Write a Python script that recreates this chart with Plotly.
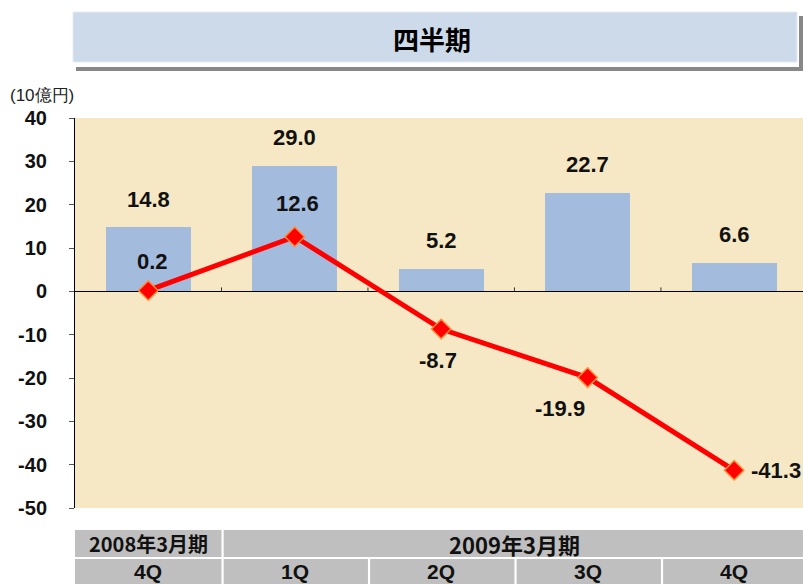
import plotly.graph_objects as go

categories = ["4Q", "1Q", "2Q", "3Q", "4Q"]
bar_values = [14.8, 29.0, 5.2, 22.7, 6.6]
line_values = [0.2, 12.6, -8.7, -19.9, -41.3]
y_ticks = [40, 30, 20, 10, 0, -10, -20, -30, -40, -50]
fiscal_years = ["2008年3月期", "2009年3月期"]
title_text = "四半期"
unit_text = "(10億円)"

W, H = 803, 584
L, R, T, B = 75, 0, 118, 76
plot_h = H - T - B
plot_w = W - L - R

def px_x(px):
    return (px - L) / plot_w

def px_y(py):
    return (H - B - py) / plot_h

FONT = "Liberation Sans Narrow, Arial Narrow, Liberation Sans, Arial, sans-serif"
CJK = "Noto Sans CJK JP, sans-serif"

xs = list(range(len(categories)))

fig = go.Figure()
fig.add_trace(go.Bar(x=xs, y=bar_values, marker=dict(color="#A3BBDD", line=dict(width=0)),
                     width=0.58, hoverinfo="skip"))
fig.add_trace(go.Scatter(x=xs, y=line_values, mode="lines+markers",
                         line=dict(color="#FF0000", width=5),
                         marker=dict(symbol="diamond", size=15, color="#FF0000",
                                     line=dict(color="#FF8C3A", width=1.5)),
                         hoverinfo="skip"))

LABEL_SIZE = 22
annotations = []
for i, v in enumerate(bar_values):
    annotations.append(dict(x=i, y=v, xref="x", yref="y", text=f"{v:.1f}", showarrow=False,
                            xanchor="center", yanchor="middle",
                            yshift=28, font=dict(family=FONT, size=LABEL_SIZE, color="#111111", weight="bold")))
line_offsets = [(4, 29), (3, 33), (-3, -31), (-28, -31), (42, 0)]
for i, v in enumerate(line_values):
    dx, dy = line_offsets[i]
    annotations.append(dict(x=i, y=v, xref="x", yref="y", text=f"{v:.1f}", showarrow=False,
                            xanchor="center", yanchor="middle",
                            xshift=dx, yshift=dy, font=dict(family=FONT, size=LABEL_SIZE, color="#111111", weight="bold")))

shapes = []
# category boundary ticks on zero line
for i in range(len(categories) - 1):
    shapes.append(dict(type="line", xref="x", yref="y", x0=i + 0.5, x1=i + 0.5, y0=0, y1=0.9,
                       line=dict(color="#333333", width=1)))

# title box with shadow
shapes.append(dict(type="rect", xref="paper", yref="paper", x0=px_x(76), x1=px_x(803),
                   y0=px_y(71), y1=px_y(16), fillcolor="#888888", line=dict(width=0), layer="above"))
shapes.append(dict(type="rect", xref="paper", yref="paper", x0=px_x(72), x1=px_x(799),
                   y0=px_y(67), y1=px_y(11), fillcolor="#FFFFFF", line=dict(width=0), layer="above"))
shapes.append(dict(type="rect", xref="paper", yref="paper", x0=px_x(73), x1=px_x(797),
                   y0=px_y(62), y1=px_y(12), fillcolor="#CDDAEA", line=dict(color="#E4EBF4", width=1),
                   layer="above"))
annotations.append(dict(x=px_x(432), y=px_y(38), xref="paper", yref="paper", text=title_text,
                        xanchor="center", yanchor="middle",
                        showarrow=False, font=dict(family=CJK, size=26, color="#000000", weight="bold")))
annotations.append(dict(x=px_x(8), y=px_y(95), xref="paper", yref="paper", text=unit_text,
                        xanchor="left", yanchor="middle",
                        showarrow=False, font=dict(family=FONT, size=17, color="#222222")))

# table
row1 = (px_y(557), px_y(530))
row2 = (px_y(584), px_y(559))
shapes.append(dict(type="rect", xref="x", yref="paper", x0=-0.5, x1=0.5, y0=row1[0], y1=row1[1],
                   fillcolor="#BFBFBF", line=dict(width=0)))
shapes.append(dict(type="rect", xref="x", yref="paper", x0=0.515, x1=4.6, y0=row1[0], y1=row1[1],
                   fillcolor="#BFBFBF", line=dict(width=0)))
annotations.append(dict(x=0, y=(row1[0] + row1[1]) / 2, xref="x", yref="paper", text=fiscal_years[0],
                        xanchor="center", yanchor="middle",
                        showarrow=False, font=dict(family=CJK, size=20, color="#111111", weight="bold")))
annotations.append(dict(x=2.5, y=(row1[0] + row1[1]) / 2, xref="x", yref="paper", text=fiscal_years[1],
                        xanchor="center", yanchor="middle",
                        showarrow=False, font=dict(family=CJK, size=22, color="#111111", weight="bold")))
for i, c in enumerate(categories):
    x0 = i - 0.5 + (0.0 if i == 0 else 0.015)
    shapes.append(dict(type="rect", xref="x", yref="paper", x0=x0, x1=i + 0.5, y0=row2[0], y1=row2[1],
                       fillcolor="#BFBFBF", line=dict(width=0)))
    annotations.append(dict(x=i, y=(row2[0] + row2[1]) / 2, xref="x", yref="paper", text=c,
                            xanchor="center", yanchor="middle",
                            showarrow=False, font=dict(family=FONT, size=21, color="#111111", weight="bold")))

fig.update_layout(
    width=W, height=H,
    margin=dict(l=L, r=R, t=T, b=B, pad=0, autoexpand=False),
    paper_bgcolor="#FFFFFF",
    plot_bgcolor="#F6E8C4",
    showlegend=False,
    bargap=0,
    shapes=shapes,
    annotations=annotations,
    xaxis=dict(range=[-0.5, 4.47], showticklabels=False, showgrid=False, zeroline=False,
               showline=False, ticks="", automargin=False),
    yaxis=dict(range=[-50, 40], tickvals=y_ticks, ticktext=[str(t) for t in y_ticks],
               showgrid=False, zeroline=True, zerolinecolor="#000000", zerolinewidth=1,
               showline=True, linecolor="#000000", linewidth=1, automargin=False,
               ticks="outside", ticklen=5, tickcolor="#555555",
               tickfont=dict(family=FONT, size=20, color="#111111", weight="bold"), ticklabelstandoff=18),
)

fig.write_html("out.html", config={"displayModeBar": False},
               post_script="document.body.style.margin='0';document.body.style.overflow='hidden';")
